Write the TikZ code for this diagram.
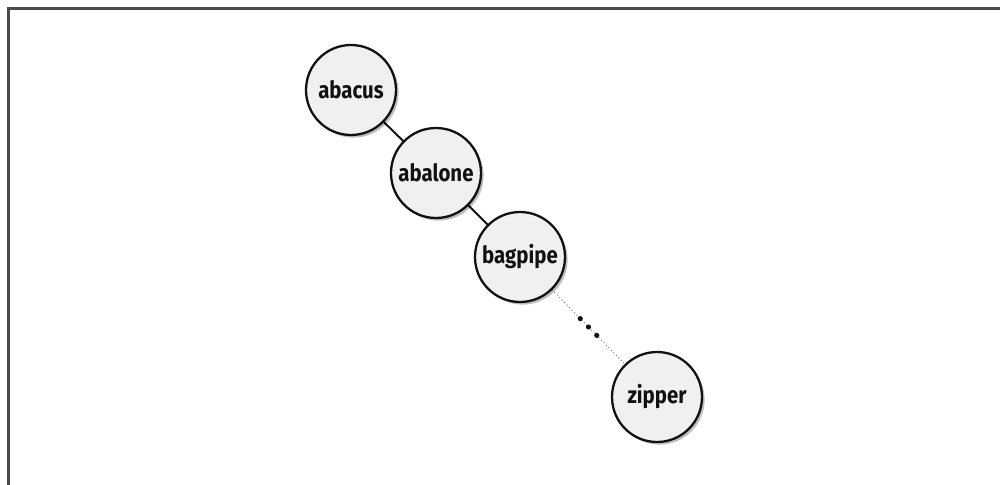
\documentclass[tikz,border=0pt]{standalone}
\usepackage{fontspec}
\setmainfont{Fira Sans}[FakeStretch=0.86]
\usepackage{xcolor}
\usepackage{tikz}
\usetikzlibrary{calc, shadows}
\definecolor{nFill}{HTML}{F0F0F0}
\definecolor{nInk}{HTML}{111111}
\definecolor{nFrame}{HTML}{4A4A4A}
\definecolor{nDots}{HTML}{777777}
\tikzset{
  wordnode/.style={circle, draw=nInk, line width=1.3pt, fill=nFill, minimum size=1.8cm,
    inner sep=0pt, font=\fontsize{13.5}{15}\selectfont\bfseries, text=nInk,
    drop shadow={shadow xshift=1.5pt, shadow yshift=-1.5pt, opacity=0.25, fill=black}},
  treeedge/.style={draw=nInk, line width=1.1pt},
  gapedge/.style={draw=nDots, line width=0.5pt, dash pattern=on 0.6pt off 1.4pt},
  gapdot/.style={fill=nInk},
  frameline/.style={draw=nFrame, line width=1.3pt},
}

\begin{document}
\begin{tikzpicture}
  \useasboundingbox (0,0) rectangle (20,-9.7);
  % frame, open at the bottom and the right
  \coordinate (fbl) at (0.17,-9.7);
  \coordinate (ftl) at (0.17,-0.17);
  \coordinate (ftr) at (20,-0.17);
  \draw[frameline] (fbl) -- (ftl) -- (ftr);
  % edges first, nodes are drawn over them
  \coordinate (pabacus) at (7.02,-1.80);
  \coordinate (pabalone) at (8.72,-3.46);
  \coordinate (pbagpipe) at (10.40,-5.14);
  \coordinate (pzipper) at (13.14,-7.94);
  \draw[treeedge] (pabacus) -- (pabalone) -- (pbagpipe);
  \draw[gapedge] (pbagpipe) -- (pzipper);
  \node[wordnode] (abacus) at (pabacus) {abacus};
  \node[wordnode] (abalone) at (pabalone) {abalone};
  \node[wordnode] (bagpipe) at (pbagpipe) {bagpipe};
  \node[wordnode] (zipper) at (pzipper) {zipper};
  \foreach \f in {0.44,0.5,0.56}
    \fill[gapdot] ($(bagpipe)!\f!(zipper)$) circle (0.052);
\end{tikzpicture}
\end{document}
